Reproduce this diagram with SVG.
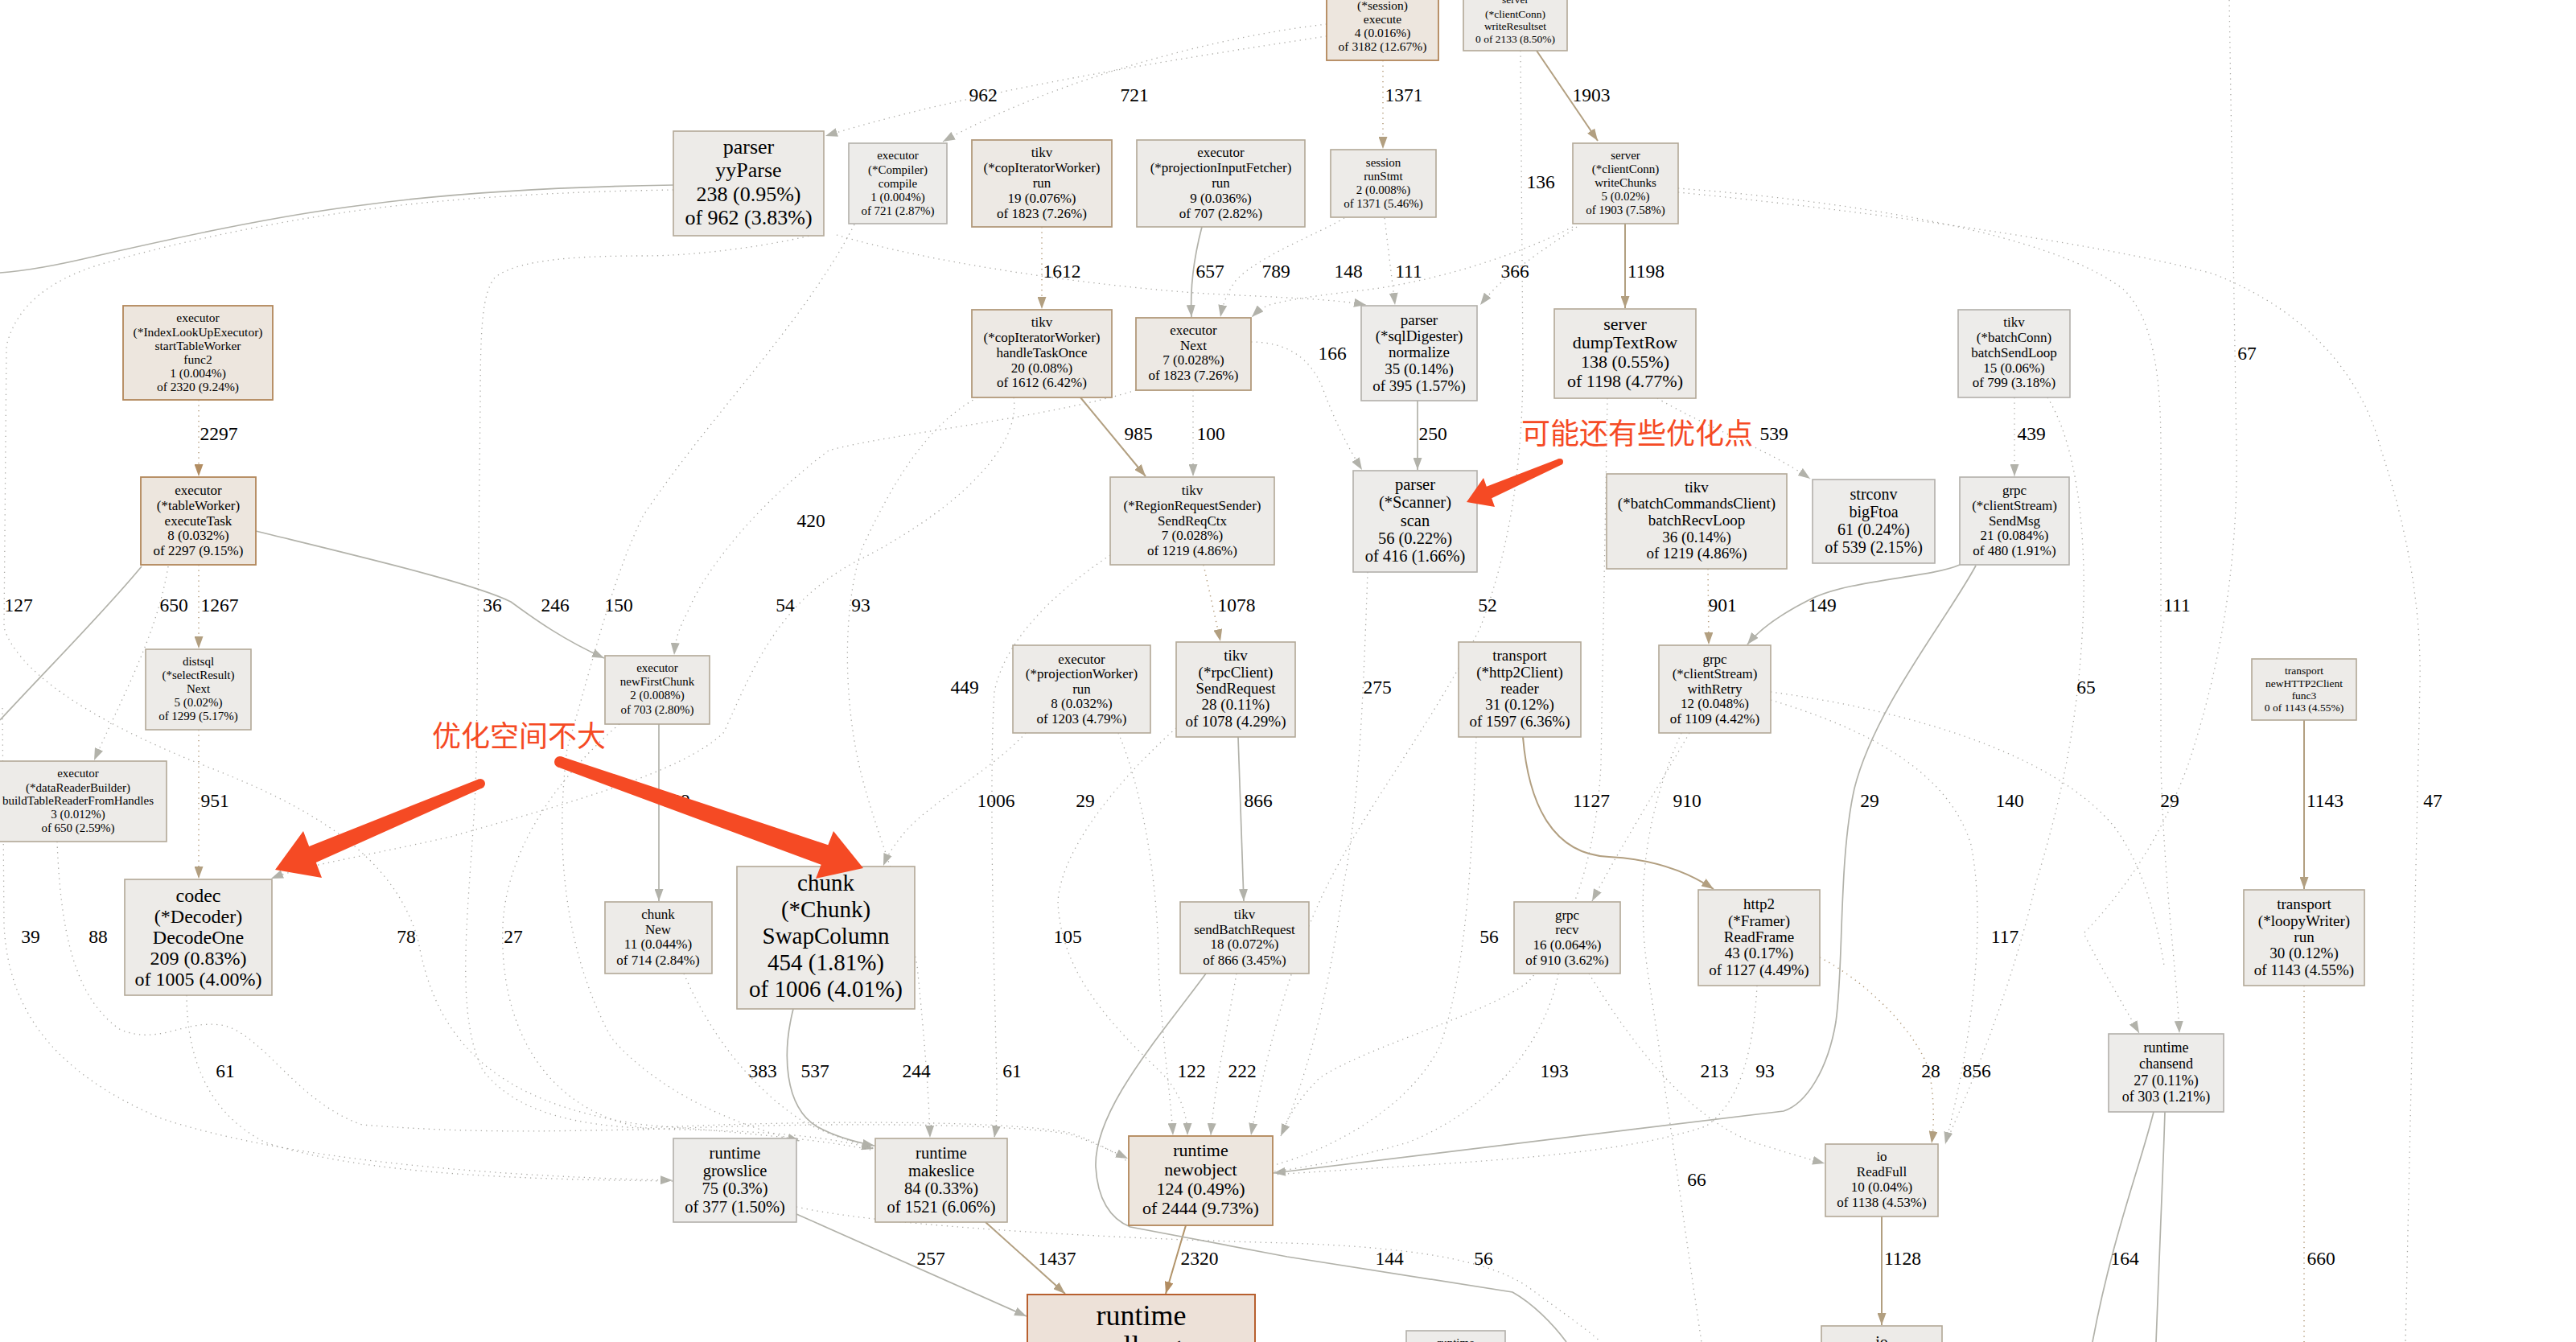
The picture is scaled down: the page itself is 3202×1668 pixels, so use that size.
<svg xmlns="http://www.w3.org/2000/svg" width="3202" height="1668" viewBox="0 0 3202 1668">
<style>
.t{font-family:"Liberation Serif","Times New Roman",serif;text-anchor:middle;fill:#000}
.l{font-family:"Liberation Serif","Times New Roman",serif;font-size:23.5px;text-anchor:middle;fill:#000}
.s{fill:none;stroke:#b2b2aa;stroke-width:1.7}
.sb{fill:none;stroke:#b29f80;stroke-width:2}
.d{fill:none;stroke:#a9a8a3;stroke-width:1.3;stroke-dasharray:1.3 5.2}
.db{fill:none;stroke:#b29a7a;stroke-width:1.5;stroke-dasharray:1.3 5.2}
.c0{fill:#edecea;stroke:#b2b0aa;stroke-width:1.6}
.c1{fill:#edebe8;stroke:#b2a897;stroke-width:1.6}
.c2{fill:#ede9e4;stroke:#b29a7b;stroke-width:1.8}
.c3{fill:#ede6de;stroke:#b2875a;stroke-width:1.8}
.c4{fill:#ede1d8;stroke:#b8602f;stroke-width:2}
.ann{font-family:"Noto Sans CJK SC","Noto Sans CJK JP",sans-serif;font-size:36px;fill:#f54a24}
.red{fill:#f54a24}
</style>
<defs>
<marker id="ag" viewBox="0 0 15 11" refX="15" refY="5.5" markerWidth="15" markerHeight="11" markerUnits="userSpaceOnUse" orient="auto"><path d="M0,0 L15,5.5 L0,11 z" fill="#b2b2aa"/></marker>
<marker id="ab" viewBox="0 0 15 11" refX="15" refY="5.5" markerWidth="15" markerHeight="11" markerUnits="userSpaceOnUse" orient="auto"><path d="M0,0 L15,5.5 L0,11 z" fill="#b29f80"/></marker>
<marker id="ad" viewBox="0 0 15 11" refX="15" refY="5.5" markerWidth="15" markerHeight="11" markerUnits="userSpaceOnUse" orient="auto"><path d="M0,0 L15,5.5 L0,11 z" fill="#b28d62"/></marker>
</defs>
<rect width="3202" height="1668" fill="#fff"/>
<g id="edges">
<path class="s" d="M837,230 C700,232 560,240 450,255 C330,270 200,300 120,318 C70,330 30,337 0,339"/>
<path class="sb" d="M1910,63 L1986,175" marker-end="url(#ab)"/>
<path class="sb" d="M2020,278 L2020,383" marker-end="url(#ab)"/>
<path class="s" d="M1494,282 C1484,320 1479,355 1481,394" marker-end="url(#ag)"/>
<path class="sb" d="M1343,494 L1424,592" marker-end="url(#ab)"/>
<path class="s" d="M1762,498 L1762,584" marker-end="url(#ag)"/>
<path class="s" d="M318,660 C440,690 590,725 635,748 C665,770 700,795 751,818" marker-end="url(#ag)"/>
<path class="s" d="M176,704 C130,760 60,830 0,895"/>
<path class="s" d="M819,900 L819,1120" marker-end="url(#ag)"/>
<path class="s" d="M986,1254 C972,1310 975,1375 1015,1400 C1040,1414 1065,1420 1087,1424" marker-end="url(#ag)"/>
<path class="s" d="M990,1509 L1276,1636" marker-end="url(#ag)"/>
<path class="sb" d="M1225,1519 L1324,1608" marker-end="url(#ab)"/>
<path class="sb" style="stroke:#b2946a" d="M1474,1523 L1449,1608" marker-end="url(#ad)"/>
<path class="s" d="M1499,1210 C1440,1290 1360,1380 1362,1450 C1364,1490 1380,1515 1405,1525 L1600,1562 L1880,1606 C1905,1620 1930,1645 1947,1668"/>
<path class="s" d="M1539,916 L1546,1120" marker-end="url(#ag)"/>
<path class="sb" d="M1893,916 C1900,1000 1930,1062 2000,1065 C2060,1068 2100,1085 2130,1105" marker-end="url(#ab)"/>
<path class="s" d="M2436,702 C2400,718 2300,720 2250,745 C2210,765 2185,785 2172,801" marker-end="url(#ag)"/>
<path class="s" d="M2456,703 C2420,770 2330,880 2305,980 C2285,1070 2292,1200 2282,1270 C2272,1330 2245,1372 2217,1381 L1583,1458" marker-end="url(#ag)"/>
<path class="sb" d="M2864,895 L2864,1105" marker-end="url(#ab)"/>
<path class="sb" d="M2339,1512 L2339,1647" marker-end="url(#ab)"/>
<path class="s" d="M2677,1382 C2660,1450 2625,1540 2601,1668"/>
<path class="s" d="M2691,1382 C2688,1480 2683,1580 2680,1668"/>
<path class="db" d="M247,497 L247,592" marker-end="url(#ad)"/>
<path class="db" d="M247,702 L247,806" marker-end="url(#ab)"/>
<path class="db" d="M247,907 L247,1092" marker-end="url(#ab)"/>
<path class="db" d="M1719,75 L1719,185" marker-end="url(#ab)"/>
<path class="db" d="M1295,282 L1295,384" marker-end="url(#ab)"/>
<path class="db" d="M2123,707 L2124,801" marker-end="url(#ab)"/>
<path class="db" d="M1496,702 L1517,797" marker-end="url(#ab)"/>
<path class="d" d="M2504,494 L2504,592" marker-end="url(#ag)"/>
<path class="d" d="M1483,485 L1483,592" marker-end="url(#ag)"/>
<path class="d" d="M1649,45 C1450,75 1200,115 1026,169" marker-end="url(#ag)"/>
<path class="d" d="M1649,30 C1480,50 1290,110 1172,176" marker-end="url(#ag)"/>
<path class="d" d="M1024,289 C960,305 870,318 800,318 C700,318 640,325 615,345 C600,365 597,400 597,500 L592,950 C588,1100 560,1250 600,1330 C650,1395 750,1402 850,1404 C950,1406 1030,1412 1086,1428" marker-end="url(#ag)"/>
<path class="d" d="M837,236 C700,238 560,246 450,261 C330,277 200,306 120,330 C60,350 20,380 8,430 L5,780 C20,830 100,890 250,950 C380,1000 490,1060 520,1170 C540,1280 600,1370 800,1398 C950,1410 1030,1418 1086,1430"/>
<path class="d" d="M1062,279 C1000,400 880,520 800,640 C760,720 735,830 705,930 C690,1050 700,1180 760,1290 C820,1360 920,1400 994,1418" marker-end="url(#ag)"/>
<path class="d" d="M1412,485 C1300,520 1100,540 1030,560 C950,620 880,700 855,760 C845,780 840,790 838,814" marker-end="url(#ag)"/>
<path class="d" d="M1671,271 C1640,290 1560,320 1535,350 C1525,365 1520,378 1517,394" marker-end="url(#ag)"/>
<path class="d" d="M1955,282 C1880,320 1780,350 1700,360 C1640,367 1600,372 1575,380 C1565,385 1560,390 1556,394" marker-end="url(#ag)"/>
<path class="d" d="M1040,292 C1150,325 1350,355 1500,365 C1600,370 1660,372 1698,379" marker-end="url(#ag)"/>
<path class="d" d="M1721,271 L1734,379" marker-end="url(#ag)"/>
<path class="d" d="M1960,282 C1920,310 1870,340 1840,379" marker-end="url(#ag)"/>
<path class="d" d="M1890,63 L1893,450 C1893,600 1870,700 1840,780 C1780,900 1700,1000 1650,1100 C1600,1200 1570,1330 1555,1411" marker-end="url(#ag)"/>
<path class="d" d="M1555,425 C1600,425 1630,445 1645,485 C1662,530 1678,560 1693,584" marker-end="url(#ag)"/>
<path class="d" d="M209,704 C195,790 150,870 117,945" marker-end="url(#ag)"/>
<path class="d" d="M1260,494 C1270,560 1180,640 1060,700 C970,750 940,820 900,910 C850,960 700,1000 560,1040 C450,1065 380,1075 337,1092" marker-end="url(#ag)"/>
<path class="d" d="M1215,494 C1150,530 1110,600 1072,680 C1045,760 1050,880 1070,960 C1090,1040 1120,1100 1140,1200 C1150,1300 1155,1370 1156,1414" marker-end="url(#ag)"/>
<path class="d" d="M1275,911 C1230,960 1150,1000 1120,1040 C1108,1055 1102,1066 1098,1076" marker-end="url(#ag)"/>
<path class="d" d="M1380,690 C1320,730 1250,790 1236,860 C1230,950 1234,1150 1238,1300 C1240,1370 1239,1395 1236,1414" marker-end="url(#ag)"/>
<path class="d" d="M1390,911 C1420,980 1440,1100 1440,1200 C1445,1300 1455,1360 1458,1411" marker-end="url(#ag)"/>
<path class="d" d="M1462,905 C1400,960 1320,1050 1315,1120 C1318,1220 1400,1290 1450,1340 C1470,1365 1476,1390 1476,1411" marker-end="url(#ag)"/>
<path class="d" d="M1537,1210 C1525,1280 1510,1350 1505,1411" marker-end="url(#ag)"/>
<path class="d" d="M3,880 L5,1150 C10,1250 60,1330 200,1390 C350,1440 600,1462 836,1467" marker-end="url(#ag)"/>
<path class="d" d="M71,1046 C75,1150 90,1240 150,1280 C200,1300 230,1265 280,1275 C330,1290 370,1370 450,1398 C600,1410 700,1405 800,1404 C1000,1395 1250,1395 1330,1410 C1360,1420 1385,1432 1402,1440" marker-end="url(#ag)"/>
<path class="d" d="M232,1237 C232,1300 250,1380 330,1420 C450,1460 650,1466 836,1468"/>
<path class="d" d="M770,900 C700,960 630,1050 625,1150 C620,1280 680,1380 800,1402 C1000,1392 1250,1392 1330,1408 C1360,1418 1385,1432 1402,1444"/>
<path class="d" d="M850,1210 C880,1280 930,1350 1000,1395 C1030,1410 1055,1418 1086,1427"/>
<path class="d" d="M1700,711 C1695,850 1690,1000 1670,1100 C1650,1250 1620,1350 1592,1412" marker-end="url(#ag)"/>
<path class="d" d="M1998,495 L1990,950 C1985,1050 1960,1150 1900,1220 C1850,1260 1700,1300 1640,1340 C1610,1370 1598,1395 1592,1412"/>
<path class="d" d="M1937,1210 C1920,1300 1850,1380 1750,1420 C1680,1440 1620,1452 1583,1456"/>
<path class="d" d="M1975,1210 C2030,1300 2100,1390 2180,1420 C2220,1432 2245,1440 2268,1446" marker-end="url(#ag)"/>
<path class="d" d="M2090,911 C2050,1000 2030,1100 2050,1220 C2070,1350 2090,1500 2115,1668"/>
<path class="d" d="M2184,1225 C2180,1300 2165,1370 2120,1400 C2000,1440 1800,1445 1583,1460"/>
<path class="d" d="M2100,911 C2060,980 2010,1060 1979,1120" marker-end="url(#ag)"/>
<path class="d" d="M990,1500 C1100,1525 1400,1540 1600,1545 C1750,1550 1850,1565 1900,1600 C1940,1630 1970,1650 1990,1668"/>
<path class="d" d="M2201,870 C2300,900 2420,950 2450,1050 C2470,1150 2450,1300 2418,1422" marker-end="url(#ag)"/>
<path class="db" d="M2262,1190 C2320,1220 2380,1280 2398,1330 C2405,1370 2404,1400 2401,1421" marker-end="url(#ab)"/>
<path class="d" d="M2086,239 C2300,260 2600,300 2750,340 C2880,390 2940,480 2960,560 C2990,650 3010,750 3008,850 L2990,1668"/>
<path class="d" d="M2086,234 C2300,250 2550,290 2640,360 C2680,400 2686,480 2686,560 L2686,950 C2690,1100 2705,1200 2709,1284" marker-end="url(#ag)"/>
<path class="d" d="M2771,0 L2780,560 C2782,700 2760,830 2720,950 C2680,1060 2620,1130 2590,1160 C2610,1200 2640,1250 2659,1284" marker-end="url(#ag)"/>
<path class="d" d="M2545,494 C2580,550 2592,650 2590,750 C2585,900 2560,1000 2530,1100 C2500,1230 2450,1350 2418,1422"/>
<path class="db" d="M2864,1225 L2864,1668"/>
<path class="d" d="M2060,495 C2120,530 2200,560 2250,595" marker-end="url(#ag)"/>
<path class="d" d="M1835,916 C1830,1050 1825,1200 1790,1300 C1750,1380 1650,1430 1584,1448"/>
<path class="d" d="M2201,860 C2350,880 2550,930 2630,1030 C2665,1080 2680,1140 2690,1200"/>
<g id="edge-labels">
<text class="l" x="1222" y="126">962</text><text class="l" x="1410" y="126">721</text><text class="l" x="1745" y="126">1371</text><text class="l" x="1978" y="126">1903</text>
<text class="l" x="1915" y="234">136</text>
<text class="l" x="1320" y="345">1612</text><text class="l" x="1504" y="345">657</text><text class="l" x="1586" y="345">789</text><text class="l" x="1676" y="345">148</text><text class="l" x="1751" y="345">111</text><text class="l" x="1883" y="345">366</text><text class="l" x="2046" y="345">1198</text>
<text class="l" x="1656" y="447">166</text><text class="l" x="2793" y="447">67</text>
<text class="l" x="272" y="547">2297</text><text class="l" x="1415" y="547">985</text><text class="l" x="1505" y="547">100</text><text class="l" x="1781" y="547">250</text><text class="l" x="2205" y="547">539</text><text class="l" x="2525" y="547">439</text>
<text class="l" x="1008" y="655">420</text>
<text class="l" x="23" y="760">127</text><text class="l" x="216" y="760">650</text><text class="l" x="273" y="760">1267</text><text class="l" x="612" y="760">36</text><text class="l" x="690" y="760">246</text><text class="l" x="769" y="760">150</text><text class="l" x="976" y="760">54</text><text class="l" x="1070" y="760">93</text><text class="l" x="1537" y="760">1078</text><text class="l" x="1849" y="760">52</text><text class="l" x="2141" y="760">901</text><text class="l" x="2265" y="760">149</text><text class="l" x="2706" y="760">111</text>
<text class="l" x="1199" y="862">449</text><text class="l" x="1712" y="862">275</text><text class="l" x="2593" y="862">65</text>
<text class="l" x="267" y="1003">951</text><text class="l" x="840" y="1003">689</text><text class="l" x="1238" y="1003">1006</text><text class="l" x="1349" y="1003">29</text><text class="l" x="1564" y="1003">866</text><text class="l" x="1978" y="1003">1127</text><text class="l" x="2097" y="1003">910</text><text class="l" x="2324" y="1003">29</text><text class="l" x="2498" y="1003">140</text><text class="l" x="2697" y="1003">29</text><text class="l" x="2890" y="1003">1143</text><text class="l" x="3024" y="1003">47</text>
<text class="l" x="38" y="1172">39</text><text class="l" x="122" y="1172">88</text><text class="l" x="505" y="1172">78</text><text class="l" x="638" y="1172">27</text><text class="l" x="1327" y="1172">105</text><text class="l" x="1851" y="1172">56</text><text class="l" x="2492" y="1172">117</text>
<text class="l" x="280" y="1339">61</text><text class="l" x="948" y="1339">383</text><text class="l" x="1013" y="1339">537</text><text class="l" x="1139" y="1339">244</text><text class="l" x="1258" y="1339">61</text><text class="l" x="1481" y="1339">122</text><text class="l" x="1544" y="1339">222</text><text class="l" x="1932" y="1339">193</text><text class="l" x="2131" y="1339">213</text><text class="l" x="2194" y="1339">93</text><text class="l" x="2400" y="1339">28</text><text class="l" x="2457" y="1339">856</text>
<text class="l" x="2109" y="1474">66</text>
<text class="l" x="1157" y="1572">257</text><text class="l" x="1314" y="1572">1437</text><text class="l" x="1491" y="1572">2320</text><text class="l" x="1727" y="1572">144</text><text class="l" x="1844" y="1572">56</text><text class="l" x="2365" y="1572">1128</text><text class="l" x="2641" y="1572">164</text><text class="l" x="2885" y="1572">660</text>
</g>
</g>
<g id="node-session-execute"><rect class="c3" x="1649" y="-30" width="139" height="105"/><text class="t" font-size="15.5"><tspan x="1718.5" y="12">(*session)</tspan><tspan x="1718.5" y="29">execute</tspan><tspan x="1718.5" y="46">4 (0.016%)</tspan><tspan x="1718.5" y="63">of 3182 (12.67%)</tspan></text></g>
<g id="node-writeResultset"><rect class="c1" x="1819" y="-14" width="129" height="77"/><text class="t" font-size="13.5"><tspan x="1883.5" y="4">server</tspan><tspan x="1883.5" y="21.5">(*clientConn)</tspan><tspan x="1883.5" y="37">writeResultset</tspan><tspan x="1883.5" y="52.5">0 of 2133 (8.50%)</tspan></text></g>
<g id="node-yyParse"><rect class="c1" x="837" y="163" width="187" height="130"/><text class="t" font-size="26"><tspan x="930.5" y="191">parser</tspan><tspan x="930.5" y="220">yyParse</tspan><tspan x="930.5" y="250">238 (0.95%)</tspan><tspan x="930.5" y="279">of 962 (3.83%)</tspan></text></g>
<g id="node-compile"><rect class="c0" x="1055" y="178" width="122" height="100"/><text class="t" font-size="15"><tspan x="1116" y="198">executor</tspan><tspan x="1116" y="215.5">(*Compiler)</tspan><tspan x="1116" y="232.5">compile</tspan><tspan x="1116" y="250">1 (0.004%)</tspan><tspan x="1116" y="267">of 721 (2.87%)</tspan></text></g>
<g id="node-copIter-run"><rect class="c2" x="1208" y="174" width="174" height="108"/><text class="t" font-size="17"><tspan x="1295" y="194.5">tikv</tspan><tspan x="1295" y="213.5">(*copIteratorWorker)</tspan><tspan x="1295" y="232.5">run</tspan><tspan x="1295" y="251.5">19 (0.076%)</tspan><tspan x="1295" y="270.5">of 1823 (7.26%)</tspan></text></g>
<g id="node-projInputFetcher"><rect class="c1" x="1413" y="174" width="209" height="108"/><text class="t" font-size="17"><tspan x="1517.5" y="194.5">executor</tspan><tspan x="1517.5" y="213.5">(*projectionInputFetcher)</tspan><tspan x="1517.5" y="232.5">run</tspan><tspan x="1517.5" y="251.5">9 (0.036%)</tspan><tspan x="1517.5" y="270.5">of 707 (2.82%)</tspan></text></g>
<g id="node-runStmt"><rect class="c1" x="1654" y="186" width="131" height="84"/><text class="t" font-size="15"><tspan x="1719.5" y="207">session</tspan><tspan x="1719.5" y="223.5">runStmt</tspan><tspan x="1719.5" y="240.5">2 (0.008%)</tspan><tspan x="1719.5" y="258">of 1371 (5.46%)</tspan></text></g>
<g id="node-writeChunks"><rect class="c1" x="1955" y="178" width="131" height="100"/><text class="t" font-size="15"><tspan x="2020.5" y="198">server</tspan><tspan x="2020.5" y="215">(*clientConn)</tspan><tspan x="2020.5" y="232">writeChunks</tspan><tspan x="2020.5" y="249">5 (0.02%)</tspan><tspan x="2020.5" y="266">of 1903 (7.58%)</tspan></text></g>
<g id="node-handleTaskOnce"><rect class="c2" x="1208" y="385" width="174" height="109"/><text class="t" font-size="17"><tspan x="1295" y="406">tikv</tspan><tspan x="1295" y="425">(*copIteratorWorker)</tspan><tspan x="1295" y="444">handleTaskOnce</tspan><tspan x="1295" y="462.5">20 (0.08%)</tspan><tspan x="1295" y="481">of 1612 (6.42%)</tspan></text></g>
<g id="node-executor-Next"><rect class="c2" x="1412" y="395" width="143" height="90"/><text class="t" font-size="17"><tspan x="1483.5" y="415.5">executor</tspan><tspan x="1483.5" y="434.5">Next</tspan><tspan x="1483.5" y="453">7 (0.028%)</tspan><tspan x="1483.5" y="471.5">of 1823 (7.26%)</tspan></text></g>
<g id="node-normalize"><rect class="c0" x="1692" y="380" width="144" height="118"/><text class="t" font-size="19"><tspan x="1764" y="403.5">parser</tspan><tspan x="1764" y="424">(*sqlDigester)</tspan><tspan x="1764" y="444">normalize</tspan><tspan x="1764" y="465">35 (0.14%)</tspan><tspan x="1764" y="486">of 395 (1.57%)</tspan></text></g>
<g id="node-dumpTextRow"><rect class="c1" x="1932" y="384" width="176" height="111"/><text class="t" font-size="22"><tspan x="2020" y="410">server</tspan><tspan x="2020" y="433">dumpTextRow</tspan><tspan x="2020" y="457">138 (0.55%)</tspan><tspan x="2020" y="481">of 1198 (4.77%)</tspan></text></g>
<g id="node-batchSendLoop"><rect class="c0" x="2434" y="385" width="139" height="109"/><text class="t" font-size="17"><tspan x="2503.5" y="406">tikv</tspan><tspan x="2503.5" y="425">(*batchConn)</tspan><tspan x="2503.5" y="444">batchSendLoop</tspan><tspan x="2503.5" y="462.5">15 (0.06%)</tspan><tspan x="2503.5" y="481">of 799 (3.18%)</tspan></text></g>
<g id="node-startTableWorker"><rect class="c3" x="153" y="380" width="186" height="117"/><text class="t" font-size="15.5"><tspan x="246" y="400">executor</tspan><tspan x="246" y="417.5">(*IndexLookUpExecutor)</tspan><tspan x="246" y="435">startTableWorker</tspan><tspan x="246" y="452">func2</tspan><tspan x="246" y="469">1 (0.004%)</tspan><tspan x="246" y="486">of 2320 (9.24%)</tspan></text></g>
<g id="node-executeTask"><rect class="c3" x="175" y="593" width="143" height="109"/><text class="t" font-size="17"><tspan x="246.5" y="615">executor</tspan><tspan x="246.5" y="634">(*tableWorker)</tspan><tspan x="246.5" y="653">executeTask</tspan><tspan x="246.5" y="671">8 (0.032%)</tspan><tspan x="246.5" y="689.5">of 2297 (9.15%)</tspan></text></g>
<g id="node-selectResult"><rect class="c1" x="181" y="807" width="131" height="100"/><text class="t" font-size="15"><tspan x="246.5" y="827">distsql</tspan><tspan x="246.5" y="844">(*selectResult)</tspan><tspan x="246.5" y="861">Next</tspan><tspan x="246.5" y="878">5 (0.02%)</tspan><tspan x="246.5" y="895">of 1299 (5.17%)</tspan></text></g>
<g id="node-dataReaderBuilder"><rect class="c1" x="-13" y="946" width="220" height="100"/><text class="t" font-size="15"><tspan x="97" y="966">executor</tspan><tspan x="97" y="983.5">(*dataReaderBuilder)</tspan><tspan x="97" y="1000">buildTableReaderFromHandles</tspan><tspan x="97" y="1017">3 (0.012%)</tspan><tspan x="97" y="1034">of 650 (2.59%)</tspan></text></g>
<g id="node-DecodeOne"><rect class="c1" x="155" y="1093" width="183" height="144"/><text class="t" font-size="24"><tspan x="246.5" y="1121">codec</tspan><tspan x="246.5" y="1147">(*Decoder)</tspan><tspan x="246.5" y="1173">DecodeOne</tspan><tspan x="246.5" y="1199">209 (0.83%)</tspan><tspan x="246.5" y="1225">of 1005 (4.00%)</tspan></text></g>
<g id="node-newFirstChunk"><rect class="c1" x="752" y="815" width="130" height="85"/><text class="t" font-size="15"><tspan x="817" y="835">executor</tspan><tspan x="817" y="852">newFirstChunk</tspan><tspan x="817" y="869">2 (0.008%)</tspan><tspan x="817" y="887">of 703 (2.80%)</tspan></text></g>
<g id="node-SendReqCtx"><rect class="c1" x="1380" y="593" width="204" height="109"/><text class="t" font-size="17"><tspan x="1482" y="615">tikv</tspan><tspan x="1482" y="634">(*RegionRequestSender)</tspan><tspan x="1482" y="653">SendReqCtx</tspan><tspan x="1482" y="671">7 (0.028%)</tspan><tspan x="1482" y="689.5">of 1219 (4.86%)</tspan></text></g>
<g id="node-projectionWorker"><rect class="c1" x="1259" y="802" width="171" height="109"/><text class="t" font-size="17"><tspan x="1344.5" y="824.5">executor</tspan><tspan x="1344.5" y="842.5">(*projectionWorker)</tspan><tspan x="1344.5" y="861.5">run</tspan><tspan x="1344.5" y="879.5">8 (0.032%)</tspan><tspan x="1344.5" y="899">of 1203 (4.79%)</tspan></text></g>
<g id="node-SendRequest"><rect class="c1" x="1462" y="798" width="148" height="118"/><text class="t" font-size="19"><tspan x="1536" y="821">tikv</tspan><tspan x="1536" y="842">(*rpcClient)</tspan><tspan x="1536" y="862">SendRequest</tspan><tspan x="1536" y="882">28 (0.11%)</tspan><tspan x="1536" y="903">of 1078 (4.29%)</tspan></text></g>
<g id="node-SwapColumn"><rect class="c1" x="916" y="1077" width="221" height="177"/><text class="t" font-size="29"><tspan x="1026.5" y="1107">chunk</tspan><tspan x="1026.5" y="1140">(*Chunk)</tspan><tspan x="1026.5" y="1173">SwapColumn</tspan><tspan x="1026.5" y="1206">454 (1.81%)</tspan><tspan x="1026.5" y="1239">of 1006 (4.01%)</tspan></text></g>
<g id="node-chunk-New"><rect class="c1" x="752" y="1121" width="133" height="89"/><text class="t" font-size="17"><tspan x="818" y="1141.5">chunk</tspan><tspan x="818" y="1160.5">New</tspan><tspan x="818" y="1179">11 (0.044%)</tspan><tspan x="818" y="1199">of 714 (2.84%)</tspan></text></g>
<g id="node-sendBatchRequest"><rect class="c1" x="1467" y="1121" width="160" height="89"/><text class="t" font-size="17"><tspan x="1547" y="1141.5">tikv</tspan><tspan x="1547" y="1160.5">sendBatchRequest</tspan><tspan x="1547" y="1179">18 (0.072%)</tspan><tspan x="1547" y="1199">of 866 (3.45%)</tspan></text></g>
<g id="node-growslice"><rect class="c0" x="837" y="1415" width="153" height="104"/><text class="t" font-size="20.5"><tspan x="913.5" y="1440">runtime</tspan><tspan x="913.5" y="1462">growslice</tspan><tspan x="913.5" y="1484">75 (0.3%)</tspan><tspan x="913.5" y="1507">of 377 (1.50%)</tspan></text></g>
<g id="node-makeslice"><rect class="c1" x="1088" y="1415" width="164" height="104"/><text class="t" font-size="20.5"><tspan x="1170" y="1440">runtime</tspan><tspan x="1170" y="1462">makeslice</tspan><tspan x="1170" y="1484">84 (0.33%)</tspan><tspan x="1170" y="1507">of 1521 (6.06%)</tspan></text></g>
<g id="node-newobject"><rect class="c3" x="1403" y="1412" width="179" height="111"/><text class="t" font-size="22"><tspan x="1492.5" y="1437">runtime</tspan><tspan x="1492.5" y="1461">newobject</tspan><tspan x="1492.5" y="1485">124 (0.49%)</tspan><tspan x="1492.5" y="1509">of 2444 (9.73%)</tspan></text></g>
<g id="node-mallocgc"><rect class="c4" x="1277" y="1609" width="283" height="100"/><text class="t" font-size="36"><tspan x="1418.5" y="1647">runtime</tspan><tspan x="1418.5" y="1685">mallocgc</tspan></text></g>
<g id="node-runtime-small"><rect class="c0" x="1748" y="1654" width="123" height="40"/><text class="t" font-size="15"><tspan x="1809.5" y="1674">runtime</tspan></text></g>
<g id="node-io-bottom"><rect class="c1" x="2264" y="1648" width="150" height="40"/><text class="t" font-size="20"><tspan x="2339" y="1675">io</tspan></text></g>
<g id="node-ReadFull"><rect class="c1" x="2269" y="1422" width="140" height="90"/><text class="t" font-size="17"><tspan x="2339" y="1443">io</tspan><tspan x="2339" y="1462">ReadFull</tspan><tspan x="2339" y="1481">10 (0.04%)</tspan><tspan x="2339" y="1500">of 1138 (4.53%)</tspan></text></g>
<g id="node-recv"><rect class="c1" x="1882" y="1121" width="132" height="89"/><text class="t" font-size="17"><tspan x="1948" y="1142.5">grpc</tspan><tspan x="1948" y="1160.5">recv</tspan><tspan x="1948" y="1179.5">16 (0.064%)</tspan><tspan x="1948" y="1198.5">of 910 (3.62%)</tspan></text></g>
<g id="node-ReadFrame"><rect class="c1" x="2111" y="1106" width="151" height="119"/><text class="t" font-size="19"><tspan x="2186.5" y="1130">http2</tspan><tspan x="2186.5" y="1151">(*Framer)</tspan><tspan x="2186.5" y="1171">ReadFrame</tspan><tspan x="2186.5" y="1191">43 (0.17%)</tspan><tspan x="2186.5" y="1212">of 1127 (4.49%)</tspan></text></g>
<g id="node-Scanner-scan"><rect class="c0" x="1682" y="585" width="154" height="126"/><text class="t" font-size="20.5"><tspan x="1759" y="609">parser</tspan><tspan x="1759" y="631">(*Scanner)</tspan><tspan x="1759" y="654">scan</tspan><tspan x="1759" y="676">56 (0.22%)</tspan><tspan x="1759" y="698">of 416 (1.66%)</tspan></text></g>
<g id="node-batchRecvLoop"><rect class="c1" x="1997" y="589" width="224" height="118"/><text class="t" font-size="19"><tspan x="2109" y="612">tikv</tspan><tspan x="2109" y="632">(*batchCommandsClient)</tspan><tspan x="2109" y="653">batchRecvLoop</tspan><tspan x="2109" y="674">36 (0.14%)</tspan><tspan x="2109" y="694">of 1219 (4.86%)</tspan></text></g>
<g id="node-bigFtoa"><rect class="c0" x="2253" y="596" width="152" height="104"/><text class="t" font-size="20"><tspan x="2329" y="621">strconv</tspan><tspan x="2329" y="643">bigFtoa</tspan><tspan x="2329" y="665">61 (0.24%)</tspan><tspan x="2329" y="687">of 539 (2.15%)</tspan></text></g>
<g id="node-http2Client-reader"><rect class="c1" x="1813" y="798" width="152" height="118"/><text class="t" font-size="19"><tspan x="1889" y="821">transport</tspan><tspan x="1889" y="842">(*http2Client)</tspan><tspan x="1889" y="862">reader</tspan><tspan x="1889" y="882">31 (0.12%)</tspan><tspan x="1889" y="903">of 1597 (6.36%)</tspan></text></g>
<g id="node-withRetry"><rect class="c1" x="2062" y="802" width="139" height="109"/><text class="t" font-size="17"><tspan x="2131.5" y="824.5">grpc</tspan><tspan x="2131.5" y="842.5">(*clientStream)</tspan><tspan x="2131.5" y="861.5">withRetry</tspan><tspan x="2131.5" y="879.5">12 (0.048%)</tspan><tspan x="2131.5" y="899">of 1109 (4.42%)</tspan></text></g>
<g id="node-SendMsg"><rect class="c0" x="2436" y="593" width="136" height="109"/><text class="t" font-size="17"><tspan x="2504" y="615">grpc</tspan><tspan x="2504" y="634">(*clientStream)</tspan><tspan x="2504" y="653">SendMsg</tspan><tspan x="2504" y="671">21 (0.084%)</tspan><tspan x="2504" y="689.5">of 480 (1.91%)</tspan></text></g>
<g id="node-newHTTP2Client-func3"><rect class="c1" x="2799" y="819" width="130" height="76"/><text class="t" font-size="13.5"><tspan x="2864" y="838">transport</tspan><tspan x="2864" y="853.5">newHTTP2Client</tspan><tspan x="2864" y="868.5">func3</tspan><tspan x="2864" y="883.5">0 of 1143 (4.55%)</tspan></text></g>
<g id="node-loopyWriter"><rect class="c1" x="2789" y="1106" width="150" height="119"/><text class="t" font-size="19"><tspan x="2864" y="1130">transport</tspan><tspan x="2864" y="1151">(*loopyWriter)</tspan><tspan x="2864" y="1171">run</tspan><tspan x="2864" y="1191">30 (0.12%)</tspan><tspan x="2864" y="1212">of 1143 (4.55%)</tspan></text></g>
<g id="node-chansend"><rect class="c0" x="2621" y="1285" width="143" height="97"/><text class="t" font-size="18"><tspan x="2692.5" y="1308">runtime</tspan><tspan x="2692.5" y="1328">chansend</tspan><tspan x="2692.5" y="1348.5">27 (0.11%)</tspan><tspan x="2692.5" y="1369">of 303 (1.21%)</tspan></text></g>
<g id="annotations">
<text class="ann" x="1891" y="552">可能还有些优化点</text>
<text class="ann" x="537" y="928">优化空间不大</text>
<circle class="red" cx="1939" cy="574" r="4"/>
<polygon class="red" points="1937.4,570.3 1847.8,604.7 1844,594 1823,624 1858,630 1854.2,619.3 1940.6,577.7"/>
<circle class="red" cx="597" cy="974" r="6"/>
<polygon class="red" points="594.7,968.5 384.2,1051.9 377,1033 342,1081 400,1091 392.8,1072.1 599.3,979.5"/>
<circle class="red" cx="696" cy="947" r="7"/>
<polygon class="red" points="698.3,940.4 1029.3,1050.2 1036,1033 1073,1079 1014,1092 1020.7,1074.8 693.7,953.6"/>
</g>
</svg>
